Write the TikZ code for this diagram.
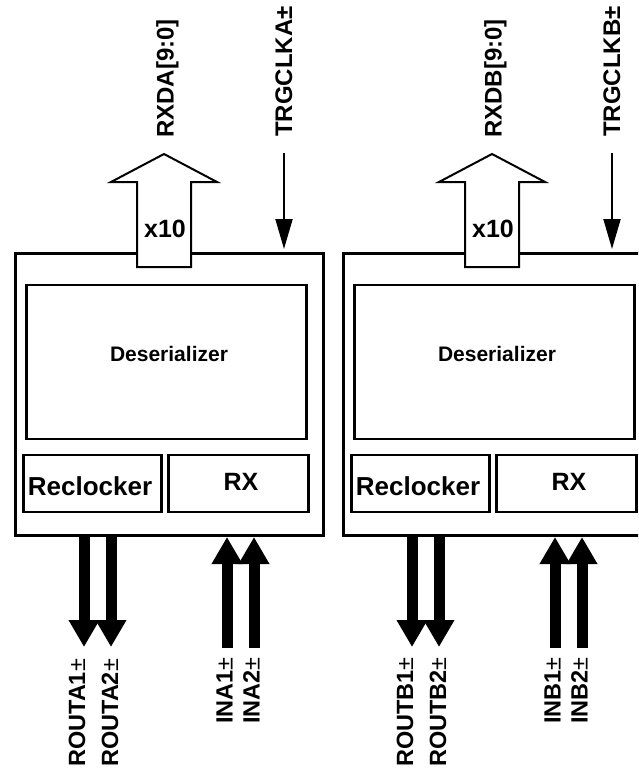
\documentclass[tikz,border=0pt]{standalone}
\usepackage{fontspec}
\setmainfont{Liberation Sans}
\usetikzlibrary{arrows.meta}
\begin{document}
\begin{tikzpicture}[x=1pt,y=-1pt,
  outerbox/.style={draw,line width=3pt,minimum width=308pt,minimum height=282pt,inner sep=0pt},
  innerbox/.style={draw,line width=2.4pt,inner sep=0pt},
  txt/.style={inner sep=0pt,anchor=base},
  vlbl/.style={inner sep=0pt,rotate=90,anchor=base west,font=\fontsize{24}{24}\selectfont\bfseries},
  blbl/.style={inner sep=0pt,rotate=90,anchor=base west,font=\fontsize{23.5}{23.5}\selectfont\bfseries},
  busarrow/.style={line width=11pt,-{Triangle[width=29pt,length=27pt]}},
  clkarrow/.style={line width=2pt,-{Triangle[width=17pt,length=30pt]}},
  bigarrow/.style={draw,line width=2pt,fill=white,line join=miter}]
\useasboundingbox (0,0) rectangle (638,773);
\clip (0,0) rectangle (638,773);
\foreach \s/\n in {0/A,328/B}{
 \begin{scope}[xshift=\s pt]
  \node[outerbox] (outer\n) at (169,394) {};
  \node[innerbox,minimum width=280pt,minimum height=154pt] (deser\n) at (166.5,362) {};
  \node[innerbox,minimum width=138pt,minimum height=57pt] (recl\n) at (92.5,483.5) {};
  \node[innerbox,minimum width=140pt,minimum height=57pt] (rx\n) at (238.5,483.5) {};
  \node[txt,font=\fontsize{21}{21}\selectfont\bfseries] (deserT\n) at (169,361) {Deserializer};
  \node[txt,font=\fontsize{26}{26}\selectfont\bfseries] (reclT\n) at (90,495) {Reclocker};
  \node[txt,font=\fontsize{25}{25}\selectfont\bfseries] (rxT\n) at (241,490) {RX};
  % wide output arrow
  \draw[bigarrow] (137,267) -- (137,182) -- (111,182) -- (164,154) -- (217,182) -- (191,182) -- (191,267) -- cycle;
  \node[txt,font=\fontsize{25}{25}\selectfont\bfseries] (xten\n) at (165,237) {x10};
  \node[vlbl] (rxd\n) at (173.5,138) {RXD\n[9:0]};
  \node[vlbl] (clk\n) at (292,137) {TRGCLK\n±};
  % clock input
  \coordinate (clkS\n) at (284,153);
  \coordinate (clkE\n) at (284,249);
  \draw[clkarrow] (clkS\n) -- (clkE\n);
  % bottom bus arrows
  \coordinate (ro1S\n) at (84,536);   \coordinate (ro1E\n) at (84,647);
  \coordinate (ro2S\n) at (111,536);  \coordinate (ro2E\n) at (111,647);
  \coordinate (in1S\n) at (227,648);  \coordinate (in1E\n) at (227,537);
  \coordinate (in2S\n) at (254,648);  \coordinate (in2E\n) at (254,537);
  \draw[busarrow] (ro1S\n) -- (ro1E\n);
  \draw[busarrow] (ro2S\n) -- (ro2E\n);
  \draw[busarrow] (in1S\n) -- (in1E\n);
  \draw[busarrow] (in2S\n) -- (in2E\n);
  \node[blbl] (ro1L\n) at (85,767) {ROUT\n1\textmd{±}};
  \node[blbl] (ro2L\n) at (118,767) {ROUT\n2\textmd{±}};
  \node[blbl] (in1L\n) at (232.5,724) {IN\n1\textmd{±}};
  \node[blbl] (in2L\n) at (259.5,724) {IN\n2\textmd{±}};
 \end{scope}
}
\end{tikzpicture}
\end{document}
